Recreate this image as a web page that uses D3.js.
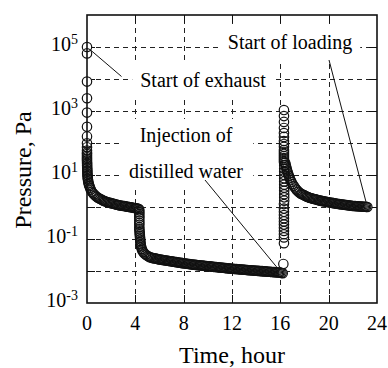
<!DOCTYPE html>
<html><head><meta charset="utf-8">
<script src="https://cdn.jsdelivr.net/npm/d3@7"></script>
<style>
body{margin:0;background:#fff}
svg{display:block}
text{font-family:"Liberation Serif","Times New Roman",serif;fill:#000}
</style>
</head><body>
<svg id="chart" width="388" height="368"></svg>
<script>
// ---- data (time in hours, pressure in Pa) ----
const run1Hours = [0,0,0,0,0,0,0,0,0,0,
  0,0,0,0,0,0,0.005,0.01,0.01,0.015,0.02,0.025,0.03,0.035,0.04,0.05,0.06,0.08,0.10,0.13,0.16,0.20,0.25,0.31,
  0.4,0.5,0.6,0.7,0.8,0.9,1.0,1.1,1.2,1.3,1.4,1.5,1.6,1.7,1.8,1.9,2.0,2.1,2.2,2.3,
  2.4,2.5,2.6,2.7,2.8,2.9,3.0,3.1,3.2,3.3,3.4,3.5,3.6,3.7,3.8,3.9,4.0,4.1,4.2,4.3];
const run1Pa = [1.0e5,6.3e4,8.3e3,2.5e3,890,320,160,98,74,58,
  50,45,40,35.5,31.6,28.2,25.1,22.4,20,17.8,15.8,14.1,12.6,11.2,10,8.9,7.9,7.1,6.3,5.6,5.0,4.5,4.0,3.5,
  3.0,2.7,2.45,2.24,2.09,1.95,1.86,1.78,1.70,1.62,1.55,1.51,1.45,1.41,1.38,1.35,1.32,1.29,1.26,1.23,
  1.20,1.17,1.15,1.12,1.12,1.10,1.07,1.07,1.05,1.02,1.02,1.00,0.98,0.98,0.95,0.93,0.93,0.91,0.89,0.87];

const run2Hours = [4.33,4.33,4.33,4.33,4.33,4.33,4.33,4.33,4.33,4.33,
  4.35,4.36,4.37,4.38,4.39,4.40,4.41,4.42,4.44,4.46,4.49,4.53,4.58,4.65,4.75,4.87,5.0,
  5.1,5.2,5.3,5.4,5.5,5.6,5.7,5.8,5.9,6.0,6.1,6.2,6.3,6.4,6.5,6.6,6.7,6.8,6.9,7.0,
  7.1,7.2,7.3,7.4,7.5,7.6,7.7,7.8,7.9,8.0,8.1,8.2,8.3,8.4,8.5,8.6,8.7,8.8,8.9,9.0,
  9.1,9.2,9.3,9.4,9.5,9.6,9.7,9.8,9.9,10.0,10.1,10.2,10.3,10.4,10.5,10.6,10.7,10.8,10.9,11.0,
  11.1,11.2,11.3,11.4,11.5,11.6,11.7,11.8,11.9,12.0,12.1,12.2,12.3,12.4,12.5,12.6,12.7,12.8,12.9,13.0,
  13.1,13.2,13.3,13.4,13.5,13.6,13.7,13.8,13.9,14.0,14.1,14.2,14.3,14.4,14.5,14.6,14.7,14.8,14.9,15.0,
  15.1,15.2,15.3,15.4,15.5,15.6,15.7,15.8,15.9,16.0,16.1,16.2];
const run2Pa = [0.79,0.69,0.60,0.51,0.45,0.38,0.32,0.28,0.23,0.20,
  0.174,0.155,0.138,0.123,0.110,0.098,0.087,0.078,0.069,0.062,0.055,0.049,0.044,0.039,0.035,0.032,0.030,
  0.0282,0.0269,0.0263,0.0257,0.0251,0.0248,0.0245,0.0240,0.0234,0.0229,0.0226,0.0223,0.0220,0.0217,0.0214,0.0211,0.0208,0.0205,0.0202,0.0200,
  0.0197,0.0194,0.0192,0.0189,0.0186,0.0184,0.0181,0.0179,0.0176,0.0174,0.0172,0.0170,0.0168,0.0166,0.0164,0.0162,0.0160,0.0158,0.0157,0.0155,
  0.0154,0.0152,0.0151,0.0149,0.0148,0.0147,0.0145,0.0144,0.0142,0.0141,0.0140,0.0139,0.0137,0.0136,0.0135,0.0134,0.0133,0.0131,0.0130,0.0129,
  0.0128,0.0127,0.0126,0.0124,0.0123,0.0122,0.0121,0.0120,0.0119,0.0117,0.0117,0.0116,0.0115,0.0115,0.0114,0.0113,0.0112,0.0111,0.0111,0.0110,
  0.0109,0.0108,0.0107,0.0106,0.0106,0.0105,0.0104,0.0103,0.0103,0.0102,0.0101,0.0101,0.0100,0.0099,0.0099,0.0098,0.0097,0.0097,0.0096,0.0095,
  0.0095,0.0094,0.0093,0.0093,0.0092,0.0091,0.0091,0.0090,0.0090,0.0089,0.0087,0.0085];

const run3Hours = [16.25,
  16.3,16.3,16.3,16.3,16.3,16.3,16.3,16.3,16.3,16.3,16.3,16.3,
  16.32,16.32,16.32,16.32,16.32,16.32,16.32,16.32,16.32,16.32,16.32,16.32,
  16.3,16.3,16.3,16.3,16.3,16.3,16.3,16.3,16.3,16.3,16.3,16.3,16.3,16.3,16.3,16.3,
  16.40,16.44,16.48,16.52,16.56,16.61,16.66,16.72,16.78,16.85,16.92,17.0,
  17.1,17.2,17.3,17.4,17.5,17.6,17.7,17.8,17.9,18.0,18.1,18.2,18.3,18.4,18.5,18.6,18.7,18.8,18.9,19.0,
  19.1,19.2,19.3,19.4,19.5,19.6,19.7,19.8,19.9,20.0,20.1,20.2,20.3,20.4,20.5,20.6,20.7,20.8,20.9,21.0,
  21.1,21.2,21.3,21.4,21.5,21.6,21.7,21.8,21.9,22.0,22.1,22.2,22.3,22.4,22.5,22.6,22.7,22.8,22.9,23.0,
  23.1,23.2];
const run3Pa = [0.0166,
  0.074,0.112,0.141,0.178,0.224,0.282,0.355,0.447,0.562,0.708,0.891,1.23,
  1.58,2.0,2.5,3.2,4.0,5.0,6.3,7.9,10,12.6,15.8,20,
  25.7,29.5,33.9,38.9,45.7,52.5,60.3,75.9,93.3,115,155,204,295,457,692,1070,
  24.0,20.9,18.2,15.8,13.8,12.0,10.5,9.1,7.9,6.9,6.0,5.2,
  4.6,4.1,3.6,3.3,3.0,2.8,2.6,2.5,2.4,2.3,2.19,2.09,2.04,1.95,1.91,1.86,1.82,1.78,1.74,1.70,
  1.66,1.62,1.58,1.55,1.53,1.51,1.48,1.45,1.43,1.41,1.38,1.36,1.35,1.32,1.30,1.29,1.26,1.24,1.23,1.22,
  1.20,1.19,1.17,1.16,1.15,1.14,1.12,1.11,1.10,1.08,1.07,1.07,1.06,1.05,1.05,1.04,1.04,1.03,1.02,1.02,
  1.01,1.00];

const xTickValues = [0,4,8,12,16,20,24];
const xTickLabels = ["0","4","8","12","16","20","24"];
const yGridValues = [1e-2,1e-1,1e0,1e1,1e2,1e3,1e4,1e5];
const yLabelValues = [1e-3,1e-1,1e1,1e3,1e5];
const yLabelExponents = ["-3","-1","1","3","5"];
const xTitle = "Time, hour";
const yTitle = "Pressure, Pa";
const noteExhaust = "Start of exhaust";
const noteLoading = "Start of loading";
const noteWater = ["Injection of", "distilled water"];

// ---- layout ----
const svg = d3.select("#chart");
const L = 87, R = 377, T = 15, B = 303;
const x = d3.scaleLinear().domain([0, 24]).range([L, R]);
const y = d3.scaleLog().domain([1e-3, 1e6]).range([B, T]);
const rad = 4.7;

const grid = svg.append("g").attr("stroke", "#222").attr("stroke-width", 1).attr("stroke-dasharray", "5,4");
grid.selectAll(".vg").data(xTickValues.filter(v => v > 0 && v < 24)).join("line")
  .attr("x1", d => Math.round(x(d)) + 0.5).attr("x2", d => Math.round(x(d)) + 0.5)
  .attr("y1", B).attr("y2", T);
grid.selectAll(".hg").data(yGridValues).join("line")
  .attr("y1", d => Math.round(y(d)) + 0.5).attr("y2", d => Math.round(y(d)) + 0.5)
  .attr("x1", L).attr("x2", R);

// inward ticks on all sides
const ticks = svg.append("g").attr("stroke", "#111").attr("stroke-width", 1);
const tl = 8;
xTickValues.filter(v => v > 0 && v < 24).forEach(v => {
  const px = Math.round(x(v)) + 0.5;
  ticks.append("line").attr("x1", px).attr("x2", px).attr("y1", B).attr("y2", B - tl);
  ticks.append("line").attr("x1", px).attr("x2", px).attr("y1", T).attr("y2", T + tl);
});
yGridValues.forEach(v => {
  const py = Math.round(y(v)) + 0.5;
  ticks.append("line").attr("x1", L).attr("x2", L + tl).attr("y1", py).attr("y2", py);
  ticks.append("line").attr("x1", R).attr("x2", R - tl).attr("y1", py).attr("y2", py);
});

// x tick labels
svg.append("g").selectAll("text").data(xTickValues).join("text")
  .attr("x", d => x(d)).attr("y", B + 27).attr("text-anchor", "middle")
  .attr("font-size", 20).text((d, i) => xTickLabels[i]);

// y tick labels 10^n
const yl = svg.append("g").selectAll("text").data(yLabelValues).join("text")
  .attr("x", L - 9).attr("y", d => y(d) + 4).attr("text-anchor", "end").attr("font-size", 20);
yl.append("tspan").text("10");
yl.append("tspan").attr("dy", -7).attr("font-size", 14).text((d, i) => yLabelExponents[i]);

// axis titles
svg.append("text").attr("x", (L + R) / 2).attr("y", 363).attr("text-anchor", "middle")
  .attr("font-size", 24).text(xTitle);
svg.append("text").attr("transform", "translate(31,170) rotate(-90)").attr("text-anchor", "middle")
  .attr("font-size", 24).text(yTitle);

// data circles: white fills first, then all outlines on top
const runs = [[run1Hours, run1Pa], [run2Hours, run2Pa], [run3Hours, run3Pa]];
const allPts = runs.flatMap(([h, p]) => h.map((t, i) => ({t, p: p[i]})));
svg.append("g").selectAll("circle").data(allPts).join("circle")
  .attr("cx", d => x(d.t)).attr("cy", d => y(d.p)).attr("r", rad)
  .attr("fill", "#fff").attr("stroke", "none");
svg.append("g").selectAll("circle").data(allPts).join("circle")
  .attr("cx", d => x(d.t)).attr("cy", d => y(d.p)).attr("r", rad)
  .attr("fill", "none").attr("stroke", "#111").attr("stroke-width", 1.2);

// frame
svg.append("rect").attr("x", L).attr("y", T).attr("width", R - L).attr("height", B - T)
  .attr("fill", "none").attr("stroke", "#111").attr("stroke-width", 1.6);

// annotations with white background
function note(lines, cx, baselines, pad) {
  const g = svg.append("g");
  const bg = g.append("rect").attr("fill", "#fff");
  lines.forEach((s, i) => g.append("text").attr("x", cx).attr("y", baselines[i])
    .attr("text-anchor", "middle").attr("font-size", 20).text(s));
  const bb = g.node().getBBox();
  bg.attr("x", bb.x - pad[0]).attr("y", bb.y - pad[1]).attr("width", bb.width + 2 * pad[0]).attr("height", bb.height + 2 * pad[1]);
  return g;
}
note([noteLoading], 290, [49], [8, 6]);
note([noteExhaust], 203, [87], [8, 6]);
note(noteWater, 186, [142, 178], [10, 5]);

// leader lines
function leader(x1, y1, t, p) {
  const cx = x(t), cy = y(p);
  const dx = cx - x1, dy = cy - y1, len = Math.hypot(dx, dy);
  svg.append("line").attr("x1", x1).attr("y1", y1)
    .attr("x2", cx - dx / len * rad).attr("y2", cy - dy / len * rad)
    .attr("stroke", "#111").attr("stroke-width", 1);
}
function leaderFrom(t, p, x2, y2) {
  const cx = x(t), cy = y(p);
  const dx = x2 - cx, dy = y2 - cy, len = Math.hypot(dx, dy);
  svg.append("line").attr("x1", cx + dx / len * rad).attr("y1", cy + dy / len * rad)
    .attr("x2", x2).attr("y2", y2).attr("stroke", "#111").attr("stroke-width", 1);
}
leaderFrom(run1Hours[0], run1Pa[0], 121.5, 76.5);
leader(329, 60, run3Hours[run3Hours.length - 1], run3Pa[run3Pa.length - 1]);
leader(205, 180, run2Hours[run2Hours.length - 2], run2Pa[run2Pa.length - 2]);
</script>
</body></html>
